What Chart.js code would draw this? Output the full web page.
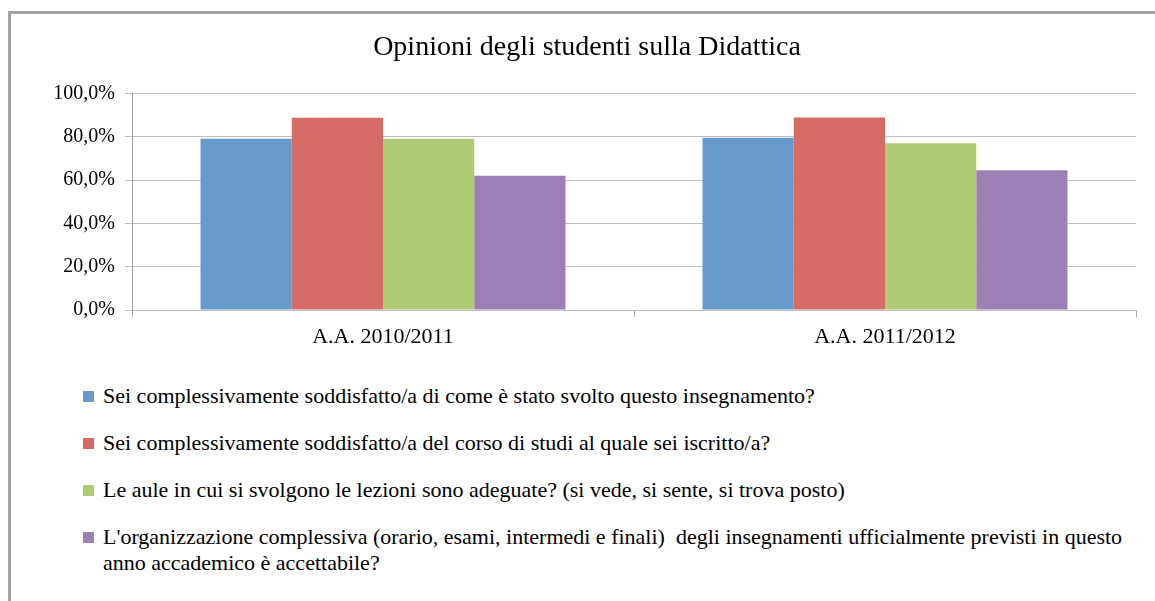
<!DOCTYPE html>
<html>
<head>
<meta charset="utf-8">
<script src="https://cdn.jsdelivr.net/npm/chart.js@4.4.1/dist/chart.umd.min.js"></script>
<style>
  html, body { margin: 0; padding: 0; background: #fff; }
  body { width: 1155px; height: 601px; position: relative; overflow: hidden; font-family: "Liberation Serif", "Times New Roman", serif; }
  #frame { position: absolute; left: 8px; top: 11px; width: 1170px; height: 620px; border: 3px solid #a3a3a3; box-sizing: border-box; }
  #wrap { position: absolute; left: 0; top: 0; width: 1155px; height: 370px; }
  #legend { position: absolute; left: 83px; top: 383px; width: 1070px; font-size: 22px; color: #000; }
  .item { display: flex; align-items: flex-start; margin-bottom: 21px; line-height: 26px; }
  .sw { width: 11px; height: 11px; flex: 0 0 11px; margin-top: 8px; margin-right: 9px; }
  .tx { white-space: pre-wrap; width: 1045px; }
</style>
</head>
<body>
<div id="frame"></div>
<div id="wrap"><canvas id="c" width="1155" height="370"></canvas></div>
<div id="legend"></div>
<script>
const categories = ["A.A. 2010/2011", "A.A. 2011/2012"];
const seriesLabels = [
  "Sei complessivamente soddisfatto/a di come è stato svolto questo insegnamento?",
  "Sei complessivamente soddisfatto/a del corso di studi al quale sei iscritto/a?",
  "Le aule in cui si svolgono le lezioni sono adeguate? (si vede, si sente, si trova posto)",
  "L'organizzazione complessiva (orario, esami, intermedi e finali)  degli insegnamenti ufficialmente previsti in questo anno accademico è accettabile?"
];
const soddisfattoInsegnamento = [79.1, 79.6];
const soddisfattoCorso = [88.8, 89.0];
const auleAdeguate = [79.1, 77.1];
const organizzazione = [62.0, 64.6];
const seriesColors = ["#6699CC", "#D46B64", "#AFCB73", "#9B80B6"];
const yTicks = [0, 20, 40, 60, 80, 100];

const allValues = [soddisfattoInsegnamento, soddisfattoCorso, auleAdeguate, organizzazione];
const datasets = allValues.map((vals, i) => ({
  label: seriesLabels[i],
  data: vals,
  backgroundColor: seriesColors[i],
  borderWidth: 0,
  categoryPercentage: 0.727,
  barPercentage: 1.0
}));

const serif = "'Liberation Serif', 'Times New Roman', serif";

const chart = new Chart(document.getElementById('c'), {
  type: 'bar',
  data: { labels: categories, datasets },
  options: {
    responsive: false,
    animation: false,
    devicePixelRatio: 1,
    layout: { padding: { left: 38, right: 19, top: 0, bottom: 0 } },
    plugins: {
      legend: { display: false },
      tooltip: { enabled: false },
      title: {
        display: true,
        text: "Opinioni degli studenti sulla Didattica",
        color: "#000",
        font: { family: serif, size: 28, weight: 'normal' },
        padding: { top: 31, bottom: 29 }
      }
    },
    scales: {
      x: {
        offset: true,
        grid: { display: true, drawOnChartArea: false, drawTicks: true, tickLength: 7, color: "#a6a6a6", offset: true },
        border: { display: true, color: "#bfbfbf" },
        ticks: { color: "#000", font: { family: serif, size: 22 }, padding: 7 },
        afterFit: s => { s.height = 60; }
      },
      y: {
        min: 0, max: 100,
        afterBuildTicks: s => { s.ticks = yTicks.map(v => ({ value: v })); },
        grid: { color: "#c0c0c0", tickLength: 7, drawTicks: true },
        border: { display: true, color: "#a6a6a6" },
        ticks: {
          color: "#000",
          font: { family: serif, size: 20 },
          padding: 10,
          callback: v => v.toFixed(1).replace('.', ',') + '%'
        },
        afterFit: s => { s.width = 94; }
      }
    }
  }
});

const legend = document.getElementById('legend');
chart.data.datasets.forEach(ds => {
  const item = document.createElement('div');
  item.className = 'item';
  const sw = document.createElement('span');
  sw.className = 'sw';
  sw.style.background = ds.backgroundColor;
  const tx = document.createElement('span');
  tx.className = 'tx';
  tx.textContent = ds.label;
  item.appendChild(sw);
  item.appendChild(tx);
  legend.appendChild(item);
});
</script>
</body>
</html>
